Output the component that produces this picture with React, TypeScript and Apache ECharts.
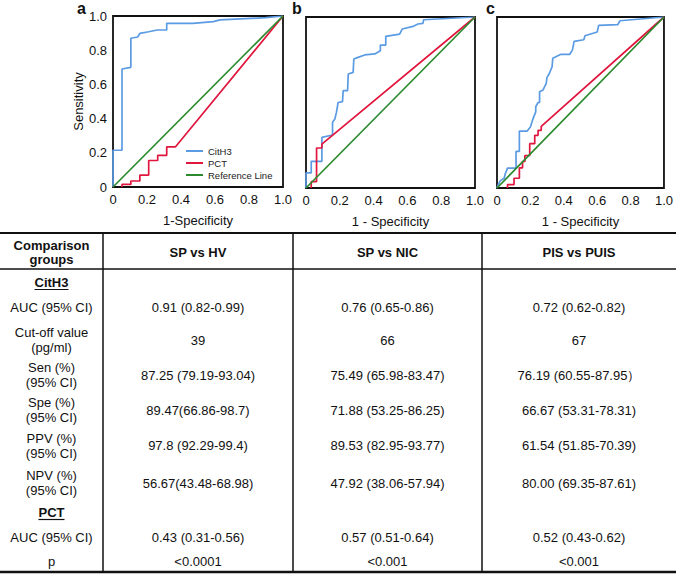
import React, { useEffect, useRef } from "react";
import * as echarts from "echarts";

const FONT = "'Liberation Sans', Arial, Helvetica, sans-serif";

// ---------- chart data ----------
const panelLetters = ["a", "b", "c"];
const xAxisTitles = ["1-Specificity", "1 - Specificity", "1 - Specificity"];
const yAxisTitle = "Sensitivity";
const seriesNames = ["CitH3", "PCT", "Reference Line"];

// Panel a: SP vs HV
const citH3SpVsHv = [
  [0, 0], [0, 0.215], [0.053, 0.215], [0.053, 0.69], [0.105, 0.7], [0.105, 0.87],
  [0.145, 0.877], [0.158, 0.898], [0.21, 0.908], [0.26, 0.918], [0.316, 0.918],
  [0.316, 0.957], [0.47, 0.957], [0.59, 0.967], [0.63, 0.977], [0.9, 0.99], [1, 1],
];
const pctSpVsHv = [
  [0.053, 0], [0.053, 0.015], [0.105, 0.015], [0.105, 0.035], [0.158, 0.035],
  [0.158, 0.07], [0.21, 0.07], [0.21, 0.155], [0.263, 0.155], [0.263, 0.185],
  [0.316, 0.185], [0.316, 0.235], [0.368, 0.235], [1, 1],
];

// Panel b: SP vs NIC
const citH3SpVsNic = [
  [0, 0], [0, 0.088], [0.031, 0.088], [0.031, 0.156], [0.094, 0.156], [0.094, 0.296],
  [0.157, 0.31], [0.157, 0.384], [0.171, 0.404], [0.18, 0.442], [0.19, 0.5],
  [0.216, 0.505], [0.22, 0.569], [0.246, 0.569], [0.25, 0.667], [0.279, 0.676],
  [0.283, 0.754], [0.308, 0.764], [0.347, 0.778], [0.407, 0.784], [0.44, 0.803],
  [0.44, 0.836], [0.472, 0.836], [0.472, 0.887], [0.554, 0.9], [0.57, 0.93],
  [0.633, 0.945], [0.662, 0.959], [0.692, 0.963], [0.696, 0.984], [1, 1],
];
const pctSpVsNic = [
  [0.031, 0], [0.031, 0.037], [0.0625, 0.037], [0.0625, 0.234], [0.094, 0.234],
  [0.094, 0.257], [1, 1],
];

// Panel c: PIS vs PUIS
const citH3PisVsPuis = [
  [0, 0], [0.01, 0.024], [0.02, 0.043], [0.043, 0.057], [0.049, 0.082], [0.063, 0.116],
  [0.114, 0.116], [0.114, 0.214], [0.134, 0.214], [0.134, 0.333], [0.181, 0.333],
  [0.2, 0.357], [0.216, 0.406], [0.232, 0.445], [0.232, 0.475], [0.246, 0.5],
  [0.255, 0.5], [0.255, 0.563], [0.275, 0.573], [0.295, 0.612], [0.299, 0.645],
  [0.314, 0.671], [0.33, 0.71], [0.334, 0.759], [0.383, 0.782], [0.436, 0.782],
  [0.452, 0.808], [0.462, 0.857], [0.52, 0.867], [0.527, 0.89], [0.6, 0.912],
  [0.609, 0.951], [0.723, 0.955], [0.737, 0.978], [1, 1],
];
const pctPisVsPuis = [
  [0.063, 0], [0.063, 0.02], [0.102, 0.02], [0.102, 0.057], [0.134, 0.057],
  [0.134, 0.118], [0.153, 0.118], [0.153, 0.155], [0.167, 0.155], [0.167, 0.19],
  [0.196, 0.19], [0.196, 0.259], [0.226, 0.259], [0.226, 0.308], [0.246, 0.308],
  [0.246, 0.337], [0.265, 0.337], [0.265, 0.361], [1, 1],
];

const referenceLine = [[0, 0], [1, 1]];

const citH3Curves = [citH3SpVsHv, citH3SpVsNic, citH3PisVsPuis];
const pctCurves = [pctSpVsHv, pctSpVsNic, pctPisVsPuis];

// ---------- table data ----------
const tableHeaders = ["Comparison\ngroups", "SP vs HV", "SP vs NIC", "PIS vs PUIS"];
const rowLabels = [
  "CitH3", "AUC (95% CI)", "Cut-off value\n(pg/ml)", "Sen (%)\n(95% CI)",
  "Spe (%)\n(95% CI)", "PPV (%)\n(95% CI)", "NPV (%)\n(95% CI)", "PCT",
  "AUC (95% CI)", "p",
];
const sectionRows = [0, 7];
const spVsHv = [
  "", "0.91 (0.82-0.99)", "39", "87.25 (79.19-93.04)", "89.47(66.86-98.7)",
  "97.8 (92.29-99.4)", "56.67(43.48-68.98)", "", "0.43 (0.31-0.56)", "<0.0001",
];
const spVsNic = [
  "", "0.76 (0.65-0.86)", "66", "75.49 (65.98-83.47)", "71.88 (53.25-86.25)",
  "89.53 (82.95-93.77)", "47.92 (38.06-57.94)", "", "0.57 (0.51-0.64)", "<0.001",
];
const pisVsPuis = [
  "", "0.72 (0.62-0.82)", "67", "76.19 (60.55-87.95）", "66.67 (53.31-78.31)",
  "61.54 (51.85-70.39)", "80.00 (69.35-87.61)", "", "0.52 (0.43-0.62)", "<0.001",
];
const tableColumns = [spVsHv, spVsNic, pisVsPuis];

// ---------- layout ----------
const W = 676;
const H = 575;
const grids = [
  { left: 113, top: 16, width: 170, height: 171 },
  { left: 306, top: 17, width: 169, height: 171 },
  { left: 497, top: 17, width: 170, height: 171 },
];
const letterX = [77, 292, 486];
const colEdges = [0, 103, 293, 482, 676];
const rowY = [282, 307, 340, 375, 410, 445.5, 483, 512, 537, 561];
const tableTop = 233;
const headerLine = 269;
const tableBottom = 572;
const COLORS = ["#5B9BE3", "#E0163E", "#2B8A2E"];

function textWidth(text: string, font: string) {
  const c = document.createElement("canvas").getContext("2d");
  if (!c) return text.length * 7;
  c.font = font;
  return c.measureText(text).width;
}

export default function App() {
  const ref = useRef<HTMLDivElement>(null);
  useEffect(() => {
    document.body.style.margin = "0";
    if (!ref.current) return;
    const chart = echarts.init(ref.current, undefined, { renderer: "svg" });

    const fmt = (v: number) => (v === 0 ? "0" : v.toFixed(1));

    const xAxis = grids.map((_, i) => ({
      gridIndex: i,
      type: "value",
      min: 0,
      max: 1,
      interval: 0.2,
      axisLine: { show: false },
      axisTick: { show: false },
      splitLine: { show: false },
      axisLabel: { fontSize: 13, color: "#111", fontFamily: FONT, margin: 6, formatter: fmt },
      name: xAxisTitles[i],
      nameLocation: "middle",
      nameGap: 27,
      nameTextStyle: { fontSize: 13, color: "#111", fontFamily: FONT },
    }));
    const yAxis = grids.map((_, i) => ({
      gridIndex: i,
      type: "value",
      min: 0,
      max: 1,
      interval: 0.2,
      axisLine: { show: false },
      axisTick: { show: false },
      splitLine: { show: false },
      axisLabel: {
        show: i === 0,
        fontSize: 13,
        color: "#111",
        fontFamily: FONT,
        margin: 6,
        formatter: fmt,
      },
      name: i === 0 ? yAxisTitle : "",
      nameLocation: "middle",
      nameGap: 26,
      nameTextStyle: { fontSize: 13, color: "#111", fontFamily: FONT },
    }));

    const series: any[] = [];
    grids.forEach((_, i) => {
      const sets = [citH3Curves[i], pctCurves[i], referenceLine];
      sets.forEach((data, k) => {
        series.push({
          name: seriesNames[k],
          type: "line",
          xAxisIndex: i,
          yAxisIndex: i,
          data,
          showSymbol: false,
          symbol: "none",
          color: COLORS[k],
          lineStyle: { width: 1.7, color: COLORS[k] },
          z: 2 + k,
        });
      });
    });

    const legend = seriesNames.map((n, i) => ({
      data: [n],
      left: 186,
      top: 146 + i * 12,
      padding: 0,
      icon: "rect",
      itemWidth: 17,
      itemHeight: 2,
      selectedMode: false,
      textStyle: { fontSize: 9.5, color: "#222", fontFamily: FONT },
    }));

    const title = panelLetters.map((t, i) => ({
      text: t,
      left: letterX[i],
      top: 0,
      padding: 0,
      textStyle: { fontSize: 16, fontWeight: "bold", color: "#111", fontFamily: FONT },
    }));

    // table graphics
    const g: any[] = [];
    const line = (x1: number, y1: number, x2: number, y2: number, w: number) =>
      g.push({
        type: "line",
        shape: { x1, y1, x2, y2 },
        style: { stroke: "#111", lineWidth: w },
        silent: true,
      });
    line(0, tableTop, W, tableTop, 2);
    line(0, headerLine, W, headerLine, 1.5);
    line(0, tableBottom, W, tableBottom, 2.5);
    for (let c = 1; c < colEdges.length - 1; c++) line(colEdges[c], tableTop, colEdges[c], tableBottom, 1.5);

    const text = (s: string, x: number, y: number, bold: boolean, lh = 15) =>
      g.push({
        type: "text",
        x,
        y,
        silent: true,
        style: {
          text: s,
          fontSize: 13,
          fontFamily: FONT,
          fontWeight: bold ? "bold" : "normal",
          fill: "#111",
          align: "center",
          verticalAlign: "middle",
          lineHeight: lh,
        },
      });

    tableHeaders.forEach((h, c) => {
      const cx = (colEdges[c] + colEdges[c + 1]) / 2;
      text(h, cx, 252, true, 14);
    });
    const labelX = (colEdges[0] + colEdges[1]) / 2;
    rowLabels.forEach((lab, r) => {
      const bold = sectionRows.includes(r);
      text(lab, labelX, rowY[r], bold);
      if (bold) {
        const w = textWidth(lab, `bold 13px ${FONT}`);
        line(labelX - w / 2, rowY[r] + 7.5, labelX + w / 2, rowY[r] + 7.5, 1.2);
      }
      tableColumns.forEach((col, c) => {
        if (!col[r]) return;
        const cx = (colEdges[c + 1] + colEdges[c + 2]) / 2;
        text(col[r], cx, rowY[r], false);
      });
    });

    chart.setOption({
      animation: false,
      backgroundColor: "#fff",
      title,
      legend,
      grid: grids.map((gr) => ({
        ...gr,
        show: true,
        borderColor: "#111",
        borderWidth: 1.8,
        backgroundColor: "transparent",
        containLabel: false,
      })),
      xAxis,
      yAxis,
      series,
      graphic: g,
    });
    return () => chart.dispose();
  }, []);
  return (
    <div
      ref={ref}
      style={{ position: "absolute", left: 0, top: 0, width: W, height: H, background: "#fff" }}
    />
  );
}
